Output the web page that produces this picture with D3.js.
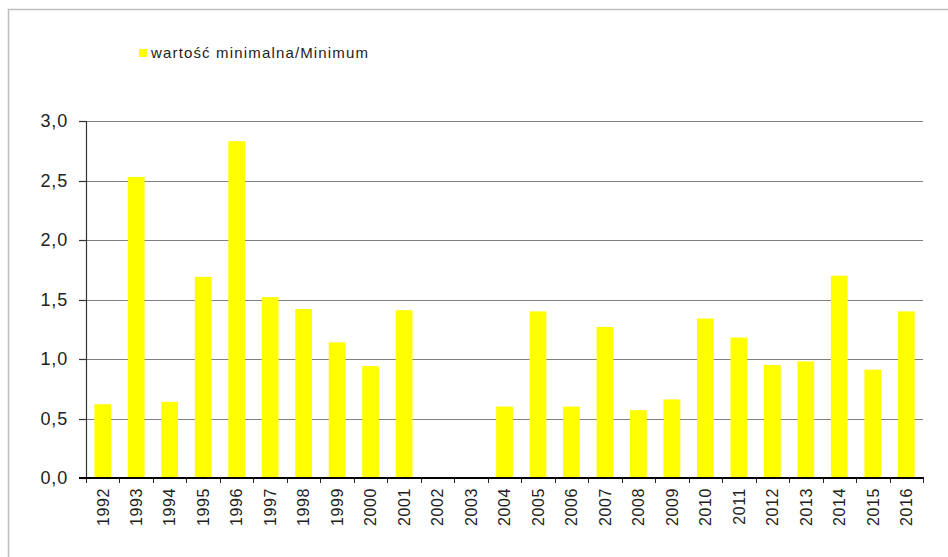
<!DOCTYPE html>
<html>
<head>
<meta charset="utf-8">
<script src="https://cdn.jsdelivr.net/npm/d3@7"></script>
<style>
  body { margin: 0; background: #fff; }
  svg { display: block; font-family: "Liberation Sans", Arial, sans-serif; }
</style>
</head>
<body>
<svg id="chart" width="948" height="557"></svg>
<script>
"use strict";

//data

const years = ["1992", "1993", "1994", "1995", "1996", "1997", "1998", "1999", "2000", "2001",
  "2002", "2003", "2004", "2005", "2006", "2007", "2008", "2009", "2010", "2011",
  "2012", "2013", "2014", "2015", "2016"];

const minimum = [0.62, 2.53, 0.64, 1.69, 2.83, 1.52, 1.42, 1.14, 0.94, 1.41,
  0, 0, 0.60, 1.40, 0.60, 1.27, 0.57, 0.66, 1.34, 1.18,
  0.95, 0.98, 1.70, 0.91, 1.40];

const yTicks = [0, 0.5, 1, 1.5, 2, 2.5, 3];

const legendLabel = "wartość minimalna/Minimum";

//layout

const plot = { left: 86, right: 923, top: 121, bottom: 478 };

const svg = d3.select("#chart");

//frame

svg.append("path")
  .attr("d", `M8.5,560 V9.5 H950`)
  .attr("fill", "none")
  .attr("stroke", "#bdbdbd")
  .attr("stroke-width", 1.5);

//scales

const x = d3.scaleBand()
  .domain(years)
  .range([plot.left, plot.right])
  .paddingInner(0.5)
  .paddingOuter(0.25);

const y = d3.scaleLinear()
  .domain([0, 3])
  .range([plot.bottom, plot.top]);

//grid

svg.append("g")
  .selectAll("line")
  .data(yTicks.filter((d) => d > 0))
  .enter()
  .append("line")
  .attr("x1", plot.left)
  .attr("x2", plot.right)
  .attr("y1", (d) => Math.round(y(d)) + 0.5)
  .attr("y2", (d) => Math.round(y(d)) + 0.5)
  .attr("stroke", "#808080")
  .attr("stroke-width", 1.2);

//bars

svg.append("g")
  .selectAll("rect")
  .data(minimum)
  .enter()
  .append("rect")
  .attr("x", (d, i) => x(years[i]))
  .attr("y", (d) => y(d))
  .attr("width", x.bandwidth())
  .attr("height", (d) => y(0) - y(d))
  .attr("fill", "#ffff00");

//y axis

const yAxis = svg.append("g");

yAxis.append("line")
  .attr("x1", plot.left + 0.5)
  .attr("x2", plot.left + 0.5)
  .attr("y1", plot.top)
  .attr("y2", plot.bottom)
  .attr("stroke", "#333")
  .attr("stroke-width", 1.2);

yAxis.selectAll("line.tick")
  .data(yTicks)
  .enter()
  .append("line")
  .attr("class", "tick")
  .attr("x1", plot.left - 7)
  .attr("x2", plot.left)
  .attr("y1", (d) => Math.round(y(d)) + 0.5)
  .attr("y2", (d) => Math.round(y(d)) + 0.5)
  .attr("stroke", "#333")
  .attr("stroke-width", 1.2);

yAxis.selectAll("text")
  .data(yTicks)
  .enter()
  .append("text")
  .attr("x", plot.left - 18)
  .attr("y", (d) => y(d))
  .attr("dy", "0.36em")
  .attr("text-anchor", "end")
  .attr("font-size", 18)
  .attr("letter-spacing", 0.8)
  .attr("fill", "#222")
  .text((d) => d3.format(".1f")(d).replace(".", ","));

//x axis

const xAxis = svg.append("g");

const edges = years.map((d) => x(d) - (x.step() - x.bandwidth()) / 2)
  .concat([plot.right]);

xAxis.selectAll("line.tick")
  .data(edges)
  .enter()
  .append("line")
  .attr("class", "tick")
  .attr("x1", (d) => Math.round(d) + 0.5)
  .attr("x2", (d) => Math.round(d) + 0.5)
  .attr("y1", plot.bottom)
  .attr("y2", plot.bottom + 5)
  .attr("stroke", "#222")
  .attr("stroke-width", 1);

xAxis.append("line")
  .attr("x1", plot.left - 7)
  .attr("x2", plot.right + 1)
  .attr("y1", plot.bottom)
  .attr("y2", plot.bottom)
  .attr("stroke", "#000")
  .attr("stroke-width", 2.2);

xAxis.selectAll("text")
  .data(years)
  .enter()
  .append("text")
  .attr("transform", (d) => `translate(${x(d) + x.bandwidth() / 2}, ${plot.bottom + 10}) rotate(-90)`)
  .attr("dy", "0.36em")
  .attr("text-anchor", "end")
  .attr("font-size", 16)
  .attr("letter-spacing", 0.6)
  .attr("fill", "#222")
  .text((d) => d);

//legend

const legend = svg.append("g").attr("transform", "translate(139, 49)");

legend.append("rect")
  .attr("width", 8)
  .attr("height", 8)
  .attr("fill", "#ffff00");

legend.append("text")
  .attr("x", 12)
  .attr("y", 4)
  .attr("dy", "0.36em")
  .attr("font-size", 15)
  .attr("textLength", 217)
  .attr("fill", "#222")
  .text(legendLabel);
</script>
</body>
</html>
